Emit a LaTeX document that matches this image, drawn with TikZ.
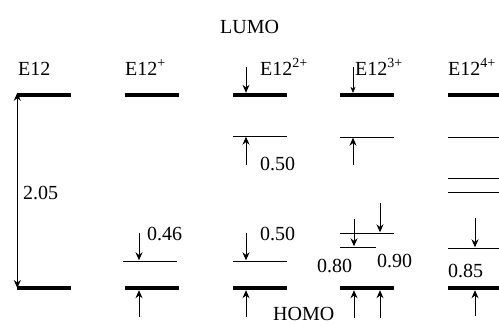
\documentclass[tikz,border=0pt]{standalone}
\usepackage{fontspec}
\setmainfont{Liberation Serif}
\usetikzlibrary{arrows.meta, positioning, calc}

\begin{document}
\begin{tikzpicture}[x=1pt, y=-1pt,
  level/.style={fill, inner sep=0pt, minimum height=4pt, minimum width=54pt},
  orbital/.style={fill, inner sep=0pt, minimum height=1pt, minimum width=54pt},
  arr/.style={-{Stealth[length=8pt, width=7pt]}, line width=1pt},
  lab/.style={anchor=base west, inner sep=0pt, font=\fontsize{20}{22}\selectfont}]
  \useasboundingbox (0,0) rectangle (499,325);

  % Frontier orbital labels
  \node[lab] (lumo) at (220,33) {LUMO};
  \node[lab] (homo) at (273,320) {HOMO};

  % E12 (neutral): LUMO and HOMO with the gap
  \node[lab] (nE0) at (18,75) {E12};
  \node[level] (e0L) at (44,95) {};
  \node[level] (e0H) at (44,288) {};
  \draw[{Stealth[length=8pt, width=7pt]}-{Stealth[length=8pt, width=7pt]}, line width=1pt]
    ([xshift=0.5pt]e0L.north west) -- ([xshift=0.5pt]e0H.west);
  \node[lab] (gap0) at (23,199) {2.05};

  % E12+
  \node[lab] (nE1) at (125,75) {E12\textsuperscript{+}};
  \node[level] (e1L) at (152,95) {};
  \node[orbital] (e1a) at (150,261) {};
  \node[level] (e1H) at (152,288) {};
  \coordinate (t1a) at (139,233);
  \coordinate (t1b) at (139,317);
  \draw[arr] (t1a) -- (t1a |- e1a.north);
  \draw[arr] (t1b) -- (t1b |- e1H.south);
  \node[lab] (v1a) at (147,240) {0.46};

  % E12 2+
  \node[lab] (nE2) at (260,75) {E12\textsuperscript{2+}};
  \node[level] (e2L) at (260,95) {};
  \node[orbital] (e2a) at (260,136) {};
  \node[orbital] (e2b) at (260,261) {};
  \node[level] (e2H) at (260,288) {};
  \coordinate (t2a) at (246,67);
  \coordinate (t2b) at (246,165);
  \coordinate (t2c) at (246,233);
  \coordinate (t2d) at (246,317);
  \draw[arr] (t2a) -- (t2a |- e2L.north);
  \draw[arr] (t2b) -- (t2b |- e2a.south);
  \draw[arr] (t2c) -- (t2c |- e2b.north);
  \draw[arr] (t2d) -- (t2d |- e2H.south);
  \node[lab] (v2a) at (260,170) {0.50};
  \node[lab] (v2b) at (260,240) {0.50};

  % E12 3+
  \node[lab] (nE3) at (355,75) {E12\textsuperscript{3+}};
  \node[level] (e3L) at (367,95) {};
  \node[orbital] (e3a) at (367,137) {};
  \node[orbital] (e3b) at (367,233) {};
  \node[orbital, minimum width=36pt] (e3c) at (358,247) {};
  \node[level] (e3H) at (367,288) {};
  \coordinate (t3a) at (353,67);
  \coordinate (t3b) at (353,165);
  \coordinate (t3c) at (354,219);
  \coordinate (t3d) at (380,203);
  \coordinate (t3e) at (354,318);
  \coordinate (t3f) at (380,318);
  \draw[-{Stealth[length=6pt, width=5pt]}, line width=0.4pt] (t3a) -- (t3a |- e3L.north);
  \draw[arr] (t3b) -- (t3b |- e3a.south);
  \draw[arr] (t3c) -- (t3c |- e3c.north);
  \draw[arr] (t3d) -- (t3d |- e3b.north);
  \draw[arr] (t3e) -- (t3e |- e3H.south);
  \draw[arr] (t3f) -- (t3f |- e3H.south);
  \node[lab] (v3a) at (317,272) {0.80};
  \node[lab] (v3b) at (377,267) {0.90};

  % E12 4+
  \node[lab] (nE4) at (448,75) {E12\textsuperscript{4+}};
  \node[level, minimum width=51pt] (e4L) at (473.5,95) {};
  \node[orbital, minimum width=51pt] (e4a) at (473.5,137) {};
  \node[orbital, minimum width=51pt] (e4b) at (473.5,178) {};
  \node[orbital, minimum width=51pt] (e4c) at (473.5,192) {};
  \node[orbital, minimum width=51pt] (e4d) at (473.5,248) {};
  \node[level, minimum width=51pt] (e4H) at (473.5,288) {};
  \coordinate (t4a) at (475,218);
  \coordinate (t4b) at (475,316);
  \draw[arr] (t4a) -- (t4a |- e4d.north);
  \draw[arr] (t4b) -- (t4b |- e4H.south);
  \node[lab] (v4a) at (448,277) {0.85};
\end{tikzpicture}
\end{document}
